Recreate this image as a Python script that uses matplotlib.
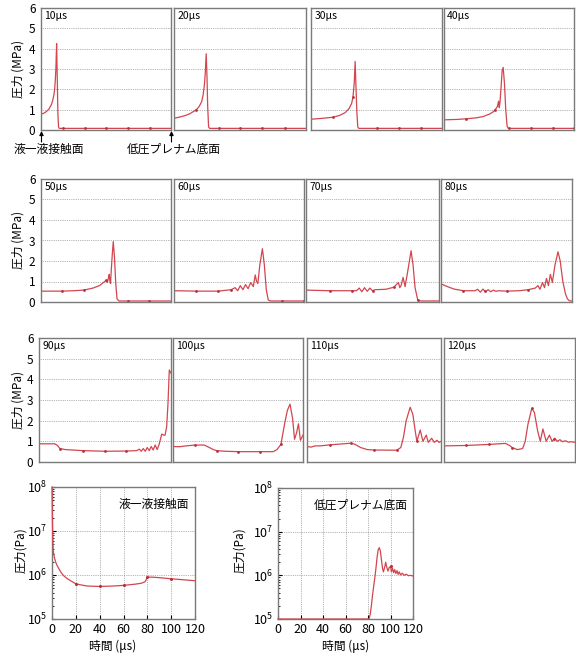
import matplotlib.pyplot as plt

plt.rcParams['font.family'] = ['Noto Sans CJK JP', 'DejaVu Sans']
plt.rcParams['mathtext.fontset'] = 'dejavusans'

W, H = 576, 653
RED = '#d2464f'
DOT = '#b4323c'
GRID = '#9a9a9a'
SPINE = '#7a7a7a'

# 圧力分布 (MPa) - 位置は液一液接触面(0)から低圧プレナム底面(1)まで
pos_10 = [0, 0.02, 0.04, 0.06, 0.08, 0.09, 0.10, 0.105, 0.11, 0.115, 0.12, 0.125, 0.13, 0.135, 0.14, 1.0]
p_10 = [0.78, 0.82, 0.9, 1.02, 1.25, 1.45, 1.75, 2.0, 2.45, 3.1, 4.25, 2.6, 0.8, 0.15, 0.08, 0.08]
mx_10 = [0.17, 0.34, 0.5, 0.67, 0.84]
my_10 = [0.08, 0.08, 0.08, 0.08, 0.08]

pos_20 = [0, 0.04, 0.08, 0.12, 0.17, 0.19, 0.21, 0.22, 0.23, 0.237, 0.244, 0.25, 0.255, 0.262, 0.27, 1.0]
p_20 = [0.58, 0.63, 0.7, 0.8, 1.0, 1.15, 1.4, 1.7, 2.2, 2.8, 3.75, 2.6, 1.2, 0.15, 0.08, 0.08]
mx_20 = [0.17, 0.34, 0.5, 0.67, 0.84]
my_20 = [1.0, 0.08, 0.08, 0.08, 0.08]

pos_30 = [0, 0.08, 0.17, 0.22, 0.26, 0.29, 0.31, 0.32, 0.33, 0.337, 0.343, 0.35, 0.357, 0.365, 1.0]
p_30 = [0.53, 0.57, 0.63, 0.72, 0.85, 1.05, 1.3, 1.6, 2.3, 3.37, 2.2, 0.9, 0.15, 0.08, 0.08]
mx_30 = [0.17, 0.32, 0.5, 0.67, 0.84]
my_30 = [0.63, 1.6, 0.08, 0.08, 0.08]

pos_40 = [0, 0.1, 0.17, 0.25, 0.3, 0.35, 0.38, 0.4, 0.41, 0.42, 0.425, 0.43, 0.44, 0.447, 0.455,
          0.465, 0.475, 0.485, 0.495, 1.0]
p_40 = [0.5, 0.52, 0.55, 0.6, 0.66, 0.78, 0.9, 1.05, 1.15, 1.42, 1.1, 1.3, 2.2, 2.9, 3.08,
        2.3, 1.0, 0.2, 0.08, 0.08]
mx_40 = [0.17, 0.39, 0.5, 0.67, 0.84, 1.0]
my_40 = [0.55, 1.0, 0.08, 0.08, 0.08, 0.08]

pos_50 = [0, 0.16, 0.25, 0.33, 0.4, 0.45, 0.48, 0.5, 0.51, 0.52, 0.525, 0.53, 0.535, 0.54, 0.548,
          0.556, 0.565, 0.575, 0.585, 0.6, 1.0]
p_50 = [0.53, 0.53, 0.55, 0.58, 0.68, 0.8, 0.95, 1.05, 0.95, 1.2, 1.35, 1.0, 0.9, 1.5, 2.3,
        2.95, 2.2, 0.9, 0.15, 0.05, 0.05]
mx_50 = [0.16, 0.33, 0.5, 0.67, 0.83]
my_50 = [0.53, 0.58, 1.05, 0.05, 0.05]

pos_60 = [0, 0.17, 0.34, 0.44, 0.47, 0.49, 0.51, 0.53, 0.55, 0.57, 0.59, 0.61, 0.625, 0.635, 0.645,
          0.66, 0.68, 0.695, 0.71, 0.725, 0.74, 1.0]
p_60 = [0.55, 0.53, 0.53, 0.6, 0.7, 0.55, 0.8, 0.6, 0.85, 0.65, 0.95, 0.75, 1.32, 1.0, 0.9,
        1.8, 2.6, 1.8, 0.6, 0.1, 0.05, 0.05]
mx_60 = [0.17, 0.34, 0.44, 0.83, 1.0]
my_60 = [0.53, 0.53, 0.6, 0.05, 0.05]

pos_70 = [0, 0.18, 0.345, 0.38, 0.40, 0.42, 0.44, 0.46, 0.48, 0.50, 0.52, 0.6, 0.66, 0.695, 0.705,
          0.715, 0.73, 0.745, 0.765, 0.79, 0.805, 0.82, 0.84, 0.86, 1.0]
p_70 = [0.58, 0.55, 0.55, 0.55, 0.68, 0.5, 0.7, 0.52, 0.68, 0.55, 0.6, 0.62, 0.72, 0.95, 0.7,
        0.8, 1.2, 0.75, 1.5, 2.5, 1.8, 0.7, 0.1, 0.05, 0.05]
mx_70 = [0.18, 0.345, 0.5, 0.66, 0.84]
my_70 = [0.55, 0.55, 0.55, 0.72, 0.1]

pos_80 = [0, 0.05, 0.1, 0.17, 0.26, 0.28, 0.30, 0.32, 0.34, 0.36, 0.38, 0.40, 0.42, 0.44,
          0.5, 0.6, 0.665, 0.72, 0.74, 0.755, 0.775, 0.79, 0.805, 0.82, 0.835, 0.85, 0.87, 0.893,
          0.91, 0.93, 0.95, 0.965, 0.98, 1.0]
p_80 = [0.88, 0.75, 0.63, 0.55, 0.55, 0.62, 0.48, 0.63, 0.5, 0.6, 0.5, 0.58, 0.52, 0.55,
        0.53, 0.55, 0.6, 0.68, 0.8, 0.62, 0.95, 0.7, 1.15, 0.8, 1.35, 0.95, 1.8, 2.45,
        2.0, 1.0, 0.4, 0.15, 0.06, 0.05]
mx_80 = [0.17, 0.335, 0.5, 0.665]
my_80 = [0.55, 0.52, 0.53, 0.6]

pos_90 = [0, 0.12, 0.14, 0.155, 0.16, 0.2, 0.33, 0.5, 0.66, 0.74,
          0.76, 0.775, 0.79, 0.805, 0.82, 0.835, 0.85, 0.865, 0.88, 0.895,
          0.91, 0.93, 0.945, 0.955, 0.967, 0.977, 0.987, 1.0]
p_90 = [0.88, 0.88, 0.8, 0.68, 0.65, 0.6, 0.55, 0.52, 0.53, 0.55,
        0.62, 0.52, 0.65, 0.52, 0.7, 0.55, 0.75, 0.58, 0.82, 0.6,
        0.85, 1.35, 1.3, 1.3, 1.7, 2.8, 4.45, 4.3]
mx_90 = [0.16, 0.33, 0.5, 0.66]
my_90 = [0.65, 0.55, 0.52, 0.53]

pos_100 = [0, 0.05, 0.1, 0.17, 0.24, 0.28, 0.31, 0.335, 0.4, 0.5,
           0.67, 0.77, 0.8, 0.83, 0.86, 0.88, 0.9, 0.92, 0.935, 0.95,
           0.965, 0.98, 1.0]
p_100 = [0.75, 0.74, 0.78, 0.82, 0.82, 0.7, 0.6, 0.55, 0.52, 0.5,
         0.5, 0.5, 0.6, 0.85, 1.9, 2.5, 2.8, 2.1, 1.1, 1.4,
         1.85, 1.05, 1.3]
mx_100 = [0.17, 0.335, 0.5, 0.67, 0.83]
my_100 = [0.82, 0.55, 0.5, 0.5, 0.85]

pos_110 = [0, 0.03, 0.06, 0.1, 0.17, 0.33, 0.36, 0.4, 0.45, 0.5,
           0.67, 0.7, 0.72, 0.74, 0.77, 0.79, 0.81, 0.82, 0.845, 0.865,
           0.89, 0.905, 0.93, 0.95, 0.97, 0.985, 1.0]
p_110 = [0.75, 0.72, 0.78, 0.78, 0.83, 0.91, 0.85, 0.7, 0.6, 0.58,
         0.57, 0.7, 1.2, 2.0, 2.65, 2.3, 1.4, 1.0, 1.55, 1.0,
         1.3, 0.95, 1.15, 0.95, 1.05, 0.95, 1.0]
mx_110 = [0.17, 0.33, 0.5, 0.67, 0.82]
my_110 = [0.83, 0.91, 0.58, 0.57, 1.0]

pos_120 = [0, 0.17, 0.34, 0.47, 0.5, 0.52, 0.56, 0.6, 0.62, 0.64,
           0.67, 0.69, 0.715, 0.735, 0.755, 0.78, 0.805, 0.825, 0.845, 0.865,
           0.885, 0.905, 0.925, 0.95, 0.975, 1.0]
p_120 = [0.78, 0.8, 0.85, 0.9, 0.8, 0.7, 0.6, 0.65, 1.0, 1.8,
         2.6, 2.4, 1.5, 1.0, 1.6, 1.0, 1.3, 1.0, 1.15, 1.0,
         1.08, 0.98, 1.03, 0.96, 0.98, 0.95]
mx_120 = [0.17, 0.34, 0.52, 0.67, 0.84]
my_120 = [0.8, 0.85, 0.7, 2.6, 1.1]

times = ['10µs', '20µs', '30µs', '40µs', '50µs', '60µs',
         '70µs', '80µs', '90µs', '100µs', '110µs', '120µs']

# 時間履歴 (Pa)
t_if = [0, 0.3, 0.6, 1, 1.5, 2, 3, 4, 6, 8, 10, 13, 16, 20, 25, 30, 40, 50, 60, 70,
        75, 78, 79, 80, 85, 90, 100, 110, 120]
p_if = [1e8, 2e7, 8e6, 3.6e6, 3e6, 2.5e6, 2.0e6, 1.7e6, 1.35e6, 1.1e6, 9.5e5, 8.2e5, 7.3e5, 6.3e5,
        5.9e5, 5.6e5, 5.5e5, 5.6e5, 5.8e5, 6.2e5, 6.5e5, 7e5, 7.8e5, 9.0e5, 8.9e5, 8.7e5,
        8.2e5, 7.8e5, 7.4e5]
tm_if = [20, 40, 60, 80, 100]
pm_if = [6.3e5, 5.5e5, 5.8e5, 9.0e5, 8.2e5]

t_pl = [0, 80, 81, 82, 83, 84, 85, 86, 87, 88, 89, 90, 91, 92, 93, 93.7, 95, 95.7, 96.5, 97.7,
        98.8, 100, 100.8, 101.8, 102.8, 103.8, 104.8, 105.8, 106.8, 107.8, 109, 110.5, 112,
        114, 116, 118, 120]
p_pl = [1e5, 1e5, 1e5, 1.3e5, 2e5, 3.5e5, 5.5e5, 8.5e5, 1.4e6, 2.5e6, 3.8e6, 4.3e6, 3.6e6,
        2.2e6, 1.4e6, 1.2e6, 1.6e6, 2.0e6, 1.6e6, 1.25e6, 1.5e6, 1.6e6, 1.2e6, 1.45e6, 1.15e6,
        1.35e6, 1.1e6, 1.28e6, 1.05e6, 1.2e6, 1.02e6, 1.12e6, 1.0e6, 1.06e6, 0.98e6, 1.0e6, 0.96e6]
tm_pl = [100]
pm_pl = [1.6e6]

curves = [(pos_10, p_10, mx_10, my_10), (pos_20, p_20, mx_20, my_20),
          (pos_30, p_30, mx_30, my_30), (pos_40, p_40, mx_40, my_40),
          (pos_50, p_50, mx_50, my_50), (pos_60, p_60, mx_60, my_60),
          (pos_70, p_70, mx_70, my_70), (pos_80, p_80, mx_80, my_80),
          (pos_90, p_90, mx_90, my_90), (pos_100, p_100, mx_100, my_100),
          (pos_110, p_110, mx_110, my_110), (pos_120, p_120, mx_120, my_120)]

# パネル配置 (ピクセル: 左, 上, 右, 下)
boxes = [(41, 8, 171, 130), (174, 8, 306, 130), (311, 8, 442, 130), (444, 8, 574, 130),
         (41, 179, 171, 302), (174, 179, 304, 302), (306, 179, 439, 302), (441, 179, 572, 302),
         (39, 338, 171, 462), (173, 338, 303, 462), (307, 338, 441, 462), (444, 338, 575, 462)]

fig = plt.figure(figsize=(W / 100, H / 100), dpi=100)


def px_axes(x0, y0, x1, y1):
    return fig.add_axes([x0 / W, 1 - y1 / H, (x1 - x0) / W, (y1 - y0) / H])


def style_spines(ax):
    for s in ax.spines.values():
        s.set_color(SPINE)
        s.set_linewidth(1.0)


for i, ((pos, p, mx, my), box, label) in enumerate(zip(curves, boxes, times)):
    ax = px_axes(*box)
    ax.plot(pos, p, color=RED, lw=0.9)
    ax.plot(mx, my, 'o', ms=2.0, color=DOT, mec='none')
    ax.set_xlim(0, 1)
    ax.set_ylim(0, 6)
    ax.set_xticks([])
    ax.set_yticks(range(7))
    ax.grid(axis='y', color=GRID, lw=0.6, ls=(0, (1, 1.2)))
    style_spines(ax)
    ax.tick_params(axis='y', length=0, pad=4, labelsize=8.5)
    if i % 4 != 0:
        ax.tick_params(axis='y', labelleft=False)
    ax.text(0.025, 0.975, label, transform=ax.transAxes, ha='left', va='top', fontsize=7.5)

for yc in [69, 240, 400]:
    fig.text(18 / W, 1 - yc / H, '圧力 (MPa)', rotation=90, ha='center', va='center', fontsize=8.5)

# 位置の矢印
for xa in [41.5, 171.5]:
    fig.add_artist(plt.Annotation('', xy=(xa, H - 131), xytext=(xa, H - 142),
                                  xycoords='figure pixels', textcoords='figure pixels',
                                  arrowprops=dict(arrowstyle='-|>', color='black', lw=0.8,
                                                  mutation_scale=6, shrinkA=0, shrinkB=0)))
fig.text(49 / W, 1 - 149 / H, '液一液接触面', ha='center', va='center', fontsize=8.5)
fig.text(174 / W, 1 - 149 / H, '低圧プレナム底面', ha='center', va='center', fontsize=8.5)

# 時間履歴のグラフ
hist = [(t_if, p_if, tm_if, pm_if, (52, 487, 195, 619), '液一液接触面', 21, 113),
        (t_pl, p_pl, tm_pl, pm_pl, (278, 488, 413, 619), '低圧プレナム底面', 240, 346)]

for t, p, tm, pm, box, name, ylx, xlx in hist:
    ax = px_axes(*box)
    ax.plot(t, p, color=RED, lw=0.9, clip_on=False, zorder=3)
    ax.plot(tm, pm, 'o', ms=2.2, color=DOT, mec='none', zorder=3)
    ax.set_yscale('log')
    ax.set_xlim(0, 120)
    ax.set_ylim(1e5, 1e8)
    ax.set_xticks(range(0, 121, 20))
    ax.set_yticks([1e5, 1e6, 1e7, 1e8])
    ax.grid(True, which='major', color=GRID, lw=0.6, ls=(0, (1, 1.2)))
    style_spines(ax)
    ax.tick_params(which='both', direction='in', labelsize=9, pad=3)
    ax.tick_params(which='major', length=3)
    ax.tick_params(which='minor', length=1.5)
    ax.text(0.96, 0.92, name, transform=ax.transAxes, ha='right', va='top', fontsize=8.5)
    fig.text(ylx / W, 1 - 550 / H, '圧力(Pa)', rotation=90, ha='center', va='center', fontsize=8.5)
    fig.text(xlx / W, 1 - 646 / H, '時間 (μs)', ha='center', va='center', fontsize=8.5)

fig.savefig('out.png', dpi=100)
